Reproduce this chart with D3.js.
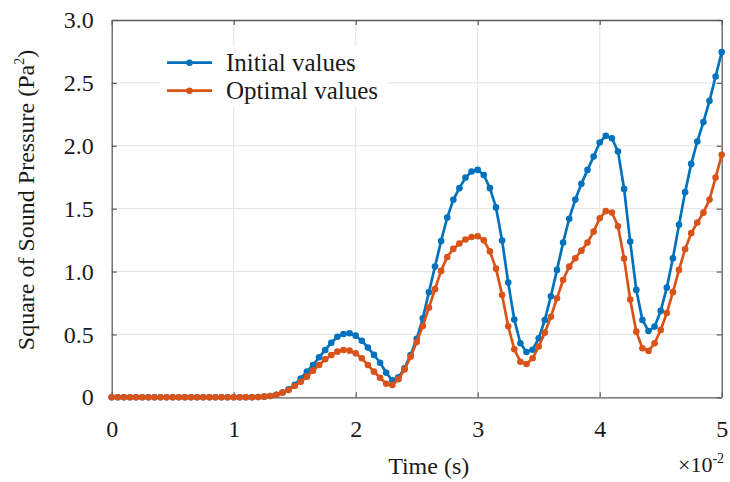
<!DOCTYPE html>
<html>
<head>
<meta charset="utf-8">
<script src="https://cdn.jsdelivr.net/npm/d3@7"></script>
<style>
  html, body { margin: 0; padding: 0; background: #fff; }
  svg { display: block; font-family: "Liberation Serif", "Times New Roman", serif; }
</style>
</head>
<body>
<svg id="chart" width="730" height="482"></svg>
<script>
// Sample times (×10^-2 s), step 0.05
const timeSteps = d3.range(0, 101).map(i => +(i * 0.05).toFixed(2));

// Square of sound pressure (Pa²), initial design
const initialValues = [
  0, 0, 0, 0, 0, 0, 0, 0, 0, 0,
  0, 0, 0, 0, 0, 0, 0, 0, 0, 0,
  0, 0, 0, 0, 0.002, 0.005, 0.01, 0.02, 0.038, 0.064,
  0.10, 0.15, 0.204, 0.257, 0.318, 0.376, 0.434, 0.482, 0.503, 0.509,
  0.49, 0.45, 0.395, 0.337, 0.275, 0.195, 0.135, 0.16, 0.23, 0.335,
  0.465, 0.628, 0.835, 1.04, 1.243, 1.429, 1.57, 1.663, 1.747, 1.795,
  1.808, 1.768, 1.663, 1.51, 1.246, 0.912, 0.618, 0.43, 0.36, 0.378,
  0.469, 0.615, 0.803, 1.013, 1.23, 1.42, 1.572, 1.697, 1.808, 1.914,
  2.026, 2.079, 2.06, 1.954, 1.657, 1.238, 0.854, 0.615, 0.527, 0.562,
  0.687, 0.872, 1.106, 1.371, 1.631, 1.856, 2.034, 2.188, 2.357, 2.551,
  2.745
];

// Square of sound pressure (Pa²), optimal design
const optimalValues = [
  0, 0, 0, 0, 0, 0, 0, 0, 0, 0,
  0, 0, 0, 0, 0, 0, 0, 0, 0, 0,
  0, 0, 0, 0, 0.002, 0.005, 0.01, 0.02, 0.037, 0.058,
  0.09, 0.124, 0.164, 0.212, 0.257, 0.302, 0.336, 0.363, 0.376, 0.371,
  0.35, 0.31, 0.257, 0.204, 0.155, 0.108, 0.098, 0.143, 0.222, 0.322,
  0.44, 0.567, 0.713, 0.86, 1.005, 1.115, 1.18, 1.223, 1.255, 1.274,
  1.28, 1.248, 1.16, 1.023, 0.814, 0.565, 0.382, 0.283, 0.265, 0.31,
  0.403, 0.514, 0.641, 0.788, 0.933, 1.039, 1.106, 1.166, 1.23, 1.317,
  1.424, 1.48, 1.469, 1.36, 1.103, 0.777, 0.522, 0.39, 0.369, 0.43,
  0.535, 0.67, 0.836, 1.013, 1.177, 1.305, 1.39, 1.468, 1.572, 1.747,
  1.928
];

const xTicks = [0, 1, 2, 3, 4, 5];
const yTicks = [0, 0.5, 1.0, 1.5, 2.0, 2.5, 3.0];
const yTickLabels = ["0", "0.5", "1.0", "1.5", "2.0", "2.5", "3.0"];
const seriesNames = ["Initial values", "Optimal values"];
const seriesColors = ["#0072BD", "#D95319"];

const svg = d3.select("#chart");
const plot = { left: 111.7, right: 721.7, top: 20, bottom: 397.3 };

const x = d3.scaleLinear().domain([0, 5]).range([plot.left, plot.right]);
const y = d3.scaleLinear().domain([0, 3]).range([plot.bottom, plot.top]);

const axisColor = "#5a5a5a";
const gridColor = "#e3e3e3";
const fontSize = 24;

// Grid lines
const grid = svg.append("g");
grid.selectAll("line.gx").data(xTicks.slice(1, -1)).join("line")
  .attr("x1", d => x(d)).attr("x2", d => x(d))
  .attr("y1", plot.top).attr("y2", plot.bottom)
  .attr("stroke", gridColor).attr("stroke-width", 1);
grid.selectAll("line.gy").data(yTicks.slice(1, -1)).join("line")
  .attr("y1", d => y(d)).attr("y2", d => y(d))
  .attr("x1", plot.left).attr("x2", plot.right)
  .attr("stroke", gridColor).attr("stroke-width", 1);

// Axes with inward ticks on all four sides
const tickLen = 5;
const bottomAxis = d3.axisBottom(x).tickValues(xTicks).tickSizeInner(-tickLen).tickSizeOuter(0).tickPadding(23).tickFormat(d3.format("d"));
const topAxis = d3.axisTop(x).tickValues(xTicks).tickSizeInner(-tickLen).tickSizeOuter(0).tickFormat("");
const leftAxis = d3.axisLeft(y).tickValues(yTicks).tickSizeInner(-tickLen).tickSizeOuter(0).tickPadding(18)
  .tickFormat((d, i) => yTickLabels[i]);
const rightAxis = d3.axisRight(y).tickValues(yTicks).tickSizeInner(-tickLen).tickSizeOuter(0).tickFormat("");

function styleAxis(g) {
  g.select(".domain").attr("stroke", axisColor).attr("stroke-width", 1.3);
  g.selectAll(".tick line").attr("stroke", axisColor).attr("stroke-width", 1.2);
  g.selectAll(".tick text").attr("fill", "#1a1a1a")
    .style("font-family", '"Liberation Serif", "Times New Roman", serif')
    .style("font-size", fontSize + "px");
}

// Legend background (drawn before the data so the curves stay on top)
svg.append("rect")
  .attr("x", 160).attr("y", 46).attr("width", 226).attr("height", 61)
  .attr("fill", "#fff");

svg.append("g").attr("transform", `translate(0,${plot.bottom})`).call(bottomAxis).call(styleAxis);
svg.append("g").attr("transform", `translate(0,${plot.top})`).call(topAxis).call(styleAxis);
svg.append("g").attr("transform", `translate(${plot.left},0)`).call(leftAxis).call(styleAxis);
svg.append("g").attr("transform", `translate(${plot.right},0)`).call(rightAxis).call(styleAxis);

// Series
const line = d3.line().x(d => x(d[0])).y(d => y(d[1]));
const seriesData = [initialValues, optimalValues].map(vals => timeSteps.map((t, i) => [t, vals[i]]));

seriesData.forEach((pts, k) => {
  const g = svg.append("g");
  g.append("path").datum(pts)
    .attr("d", line).attr("fill", "none")
    .attr("stroke", seriesColors[k]).attr("stroke-width", 2.7)
    .attr("stroke-linejoin", "round");
  g.selectAll("circle").data(pts).join("circle")
    .attr("cx", d => x(d[0])).attr("cy", d => y(d[1]))
    .attr("r", 3.3).attr("fill", seriesColors[k]);
});

// Legend entries
const legend = svg.append("g");
seriesNames.forEach((name, k) => {
  const ly = 62.7 + k * 28;
  legend.append("line")
    .attr("x1", 167).attr("x2", 212).attr("y1", ly).attr("y2", ly)
    .attr("stroke", seriesColors[k]).attr("stroke-width", 2.7);
  legend.append("circle").attr("cx", 189.5).attr("cy", ly).attr("r", 3.3).attr("fill", seriesColors[k]);
  legend.append("text")
    .attr("x", 226).attr("y", ly + 8)
    .attr("font-size", 25).attr("fill", "#1a1a1a")
    .text(name);
});

// Axis titles
svg.append("text")
  .attr("x", (plot.left + plot.right) / 2 + 12).attr("y", 474)
  .attr("text-anchor", "middle").attr("font-size", fontSize).attr("fill", "#1a1a1a")
  .text("Time (s)");

const yTitle = svg.append("text")
  .attr("transform", `translate(34,${200}) rotate(-90)`)
  .attr("text-anchor", "middle").attr("font-size", fontSize).attr("fill", "#1a1a1a");
yTitle.append("tspan").text("Square of Sound Pressure (Pa");
yTitle.append("tspan").attr("font-size", 14).attr("dy", -10).text("2");
yTitle.append("tspan").attr("dy", 10).text(")");

// Exponent marker for the time axis
const expo = svg.append("text")
  .attr("x", 678).attr("y", 472)
  .attr("font-size", 22).attr("fill", "#1a1a1a");
expo.append("tspan").text("×10");
expo.append("tspan").attr("font-size", 14).attr("dy", -9).text("-2");
</script>
</body>
</html>
